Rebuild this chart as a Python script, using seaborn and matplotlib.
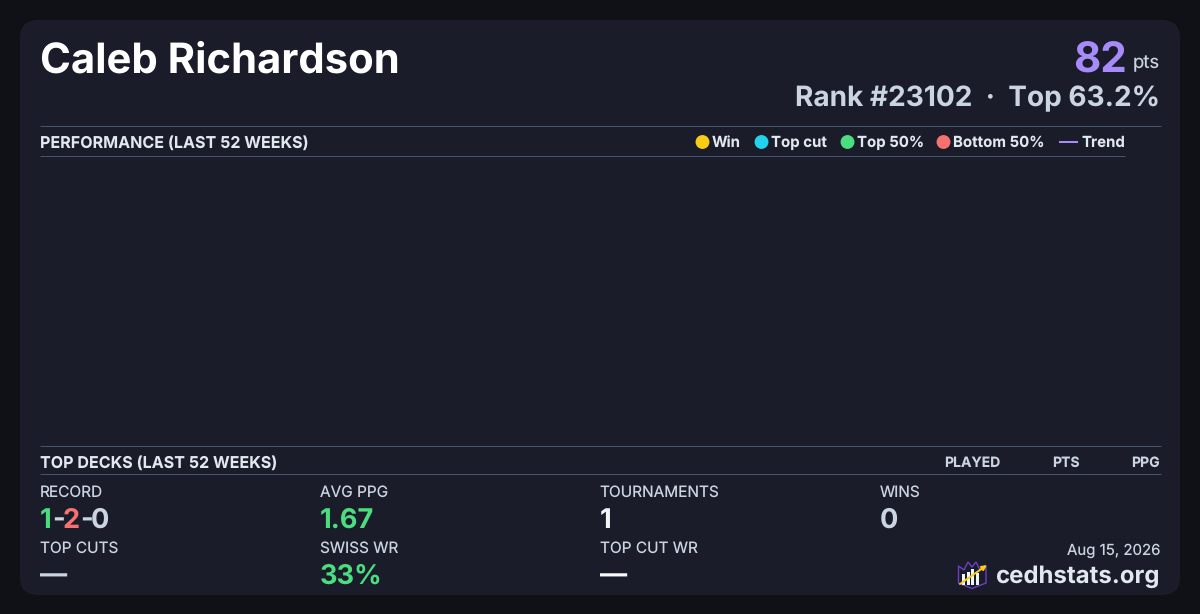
import matplotlib
matplotlib.use('Agg')
import matplotlib.pyplot as plt
import pandas as pd
import seaborn as sns
from matplotlib.patches import FancyBboxPatch, Polygon, Rectangle

player = 'Caleb Richardson'
points = '82'
rank_line = 'Rank #23102  ·  Top 63.2%'
date_label = 'Aug 15, 2026'
site = 'cedhstats.org'

legend_labels = ['Win', 'Top cut', 'Top 50%', 'Bottom 50%']
legend_colors = ['#facc15', '#22d3ee', '#4ade80', '#f87171']
legend_x = [702.5, 761.5, 847.5, 943.5]
text_x = [712, 771, 857, 953]

deck_columns = ['PLAYED', 'PTS', 'PPG']
deck_columns_x = [1000, 1080, 1160]

stat_labels = ['RECORD', 'AVG PPG', 'TOURNAMENTS', 'WINS', 'TOP CUTS', 'SWISS WR', 'TOP CUT WR']
stat_values = [None, '1.67', '1', '0', '—', '33%', '—']
stat_colors = [None, '#4ade80', '#f1f5f9', '#cbd5e1', '#cbd5e1', '#4ade80', '#f8fafc']
stat_x = [40, 320, 599.5, 880, 40, 320, 600]
stat_row = [0, 0, 0, 0, 1, 1, 1]
record_parts = ['1', '-', '2', '-', '0']
record_colors = ['#4ade80', '#cbd5e1', '#f87171', '#cbd5e1', '#cbd5e1']
record_x = [40, 52, 63, 80, 91]

BG = '#0f1117'
CARD = '#1a1d29'
RULE = '#46546c'

sns.set_theme(style='dark')
plt.rcParams['font.family'] = ['Inter', 'DejaVu Sans']
plt.rcParams['text.hinting'] = 'none'

fig = plt.figure(figsize=(12, 6.14), dpi=100, facecolor=BG)
ax = fig.add_axes([0, 0, 1, 1])
ax.set_xlim(0, 1200)
ax.set_ylim(614, 0)
ax.axis('off')


def px(size):
    return size * 0.72


def label(x, y, s, size, color, weight='normal', ha='left'):
    return ax.text(x, y, s, fontsize=px(size), color=color, fontweight=weight, ha=ha, va='baseline')


# карточка
ax.add_patch(FancyBboxPatch((20, 20), 1160, 575, boxstyle='round,pad=0,rounding_size=18',
                            fc=CARD, ec='none'))

# шапка
label(40, 73, player, 41.8, '#ffffff', 'bold')
label(1127, 73, points, 42, '#a78bfa', 'bold', ha='right')
label(1160, 68, 'pts', 18.5, '#cbd5e1', ha='right')
label(1160, 106, rank_line, 28, '#cbd5e1', 'bold', ha='right')

# разделители
for y, x1 in zip([126.2, 156.2, 446.2, 474.2], [1161, 1125, 1161, 1161]):
    ax.plot([40, x1], [y, y], color=RULE, lw=0.72, solid_capstyle='butt')

label(40, 148, 'PERFORMANCE (LAST 52 WEEKS)', 16.1, '#e2e8f0', 'bold')
label(40, 468, 'TOP DECKS (LAST 52 WEEKS)', 16.1, '#e2e8f0', 'bold')

# легенда
legend_df = pd.DataFrame({'x': legend_x, 'y': [142] * 4, 'kind': legend_labels})
sns.scatterplot(data=legend_df, x='x', y='y', hue='kind', palette=legend_colors, s=100,
                marker='o', linewidth=0, legend=False, ax=ax)
ax.set_xlim(0, 1200)
ax.set_ylim(614, 0)
ax.axis('off')
for x, s in zip(text_x, legend_labels):
    label(x, 147, s, 15, '#e2e8f0', 'bold')
ax.plot([1059, 1078], [141.5, 141.5], color='#a78bfa', lw=1.44, solid_capstyle='butt')
label(1081, 147, 'Trend', 15, '#e2e8f0', 'bold')

# пустая область графика
chart = fig.add_axes([40 / 1200, 1 - 446 / 614, 1085 / 1200, 289 / 614])
sns.lineplot(data=pd.DataFrame({'week': [], 'ppg': []}), x='week', y='ppg', ax=chart)
chart.axis('off')

# колонки колод
for x, s in zip(deck_columns_x, deck_columns):
    label(x, 467, s, 14, '#cbd5e1', 'bold', ha='right')

# показатели
for name, value, color, x, row in zip(stat_labels, stat_values, stat_colors, stat_x, stat_row):
    label(x, 497 + row * 56, name, 15.4, '#cbd5e1')
    if value is not None:
        label(x, 528 + row * 56, value, 27.2, color, 'bold')

# счёт из кусков
for part, color, x in zip(record_parts, record_colors, record_x):
    label(x, 528, part, 27.2, color, 'bold')

# подвал
label(1160, 555, date_label, 15, '#cbd5e1', ha='right')
label(1160, 583, site, 24, '#e2e8f0', 'bold', ha='right')

# логотип
ax.add_patch(Polygon([(958.5, 566), (964, 570), (968, 562), (972, 567), (976, 562), (980, 570),
                      (986, 566), (986, 583), (972, 588.5), (958.5, 583)],
                     closed=True, fc='#1a1d29', ec='#6d3fc4', lw=1))
for bx, btop in zip([962, 966.5, 971, 976], [574, 572, 569, 573]):
    ax.add_patch(Rectangle((bx, btop), 3.3, 585 - btop, fc='#f1f5f9', ec='none'))
ax.annotate('', xy=(987, 565), xytext=(960, 584),
            arrowprops=dict(arrowstyle='-|>', color='#facc15', lw=1.4, mutation_scale=7,
                            shrinkA=0, shrinkB=0))

fig.savefig('out.png', dpi=100, facecolor=BG)
